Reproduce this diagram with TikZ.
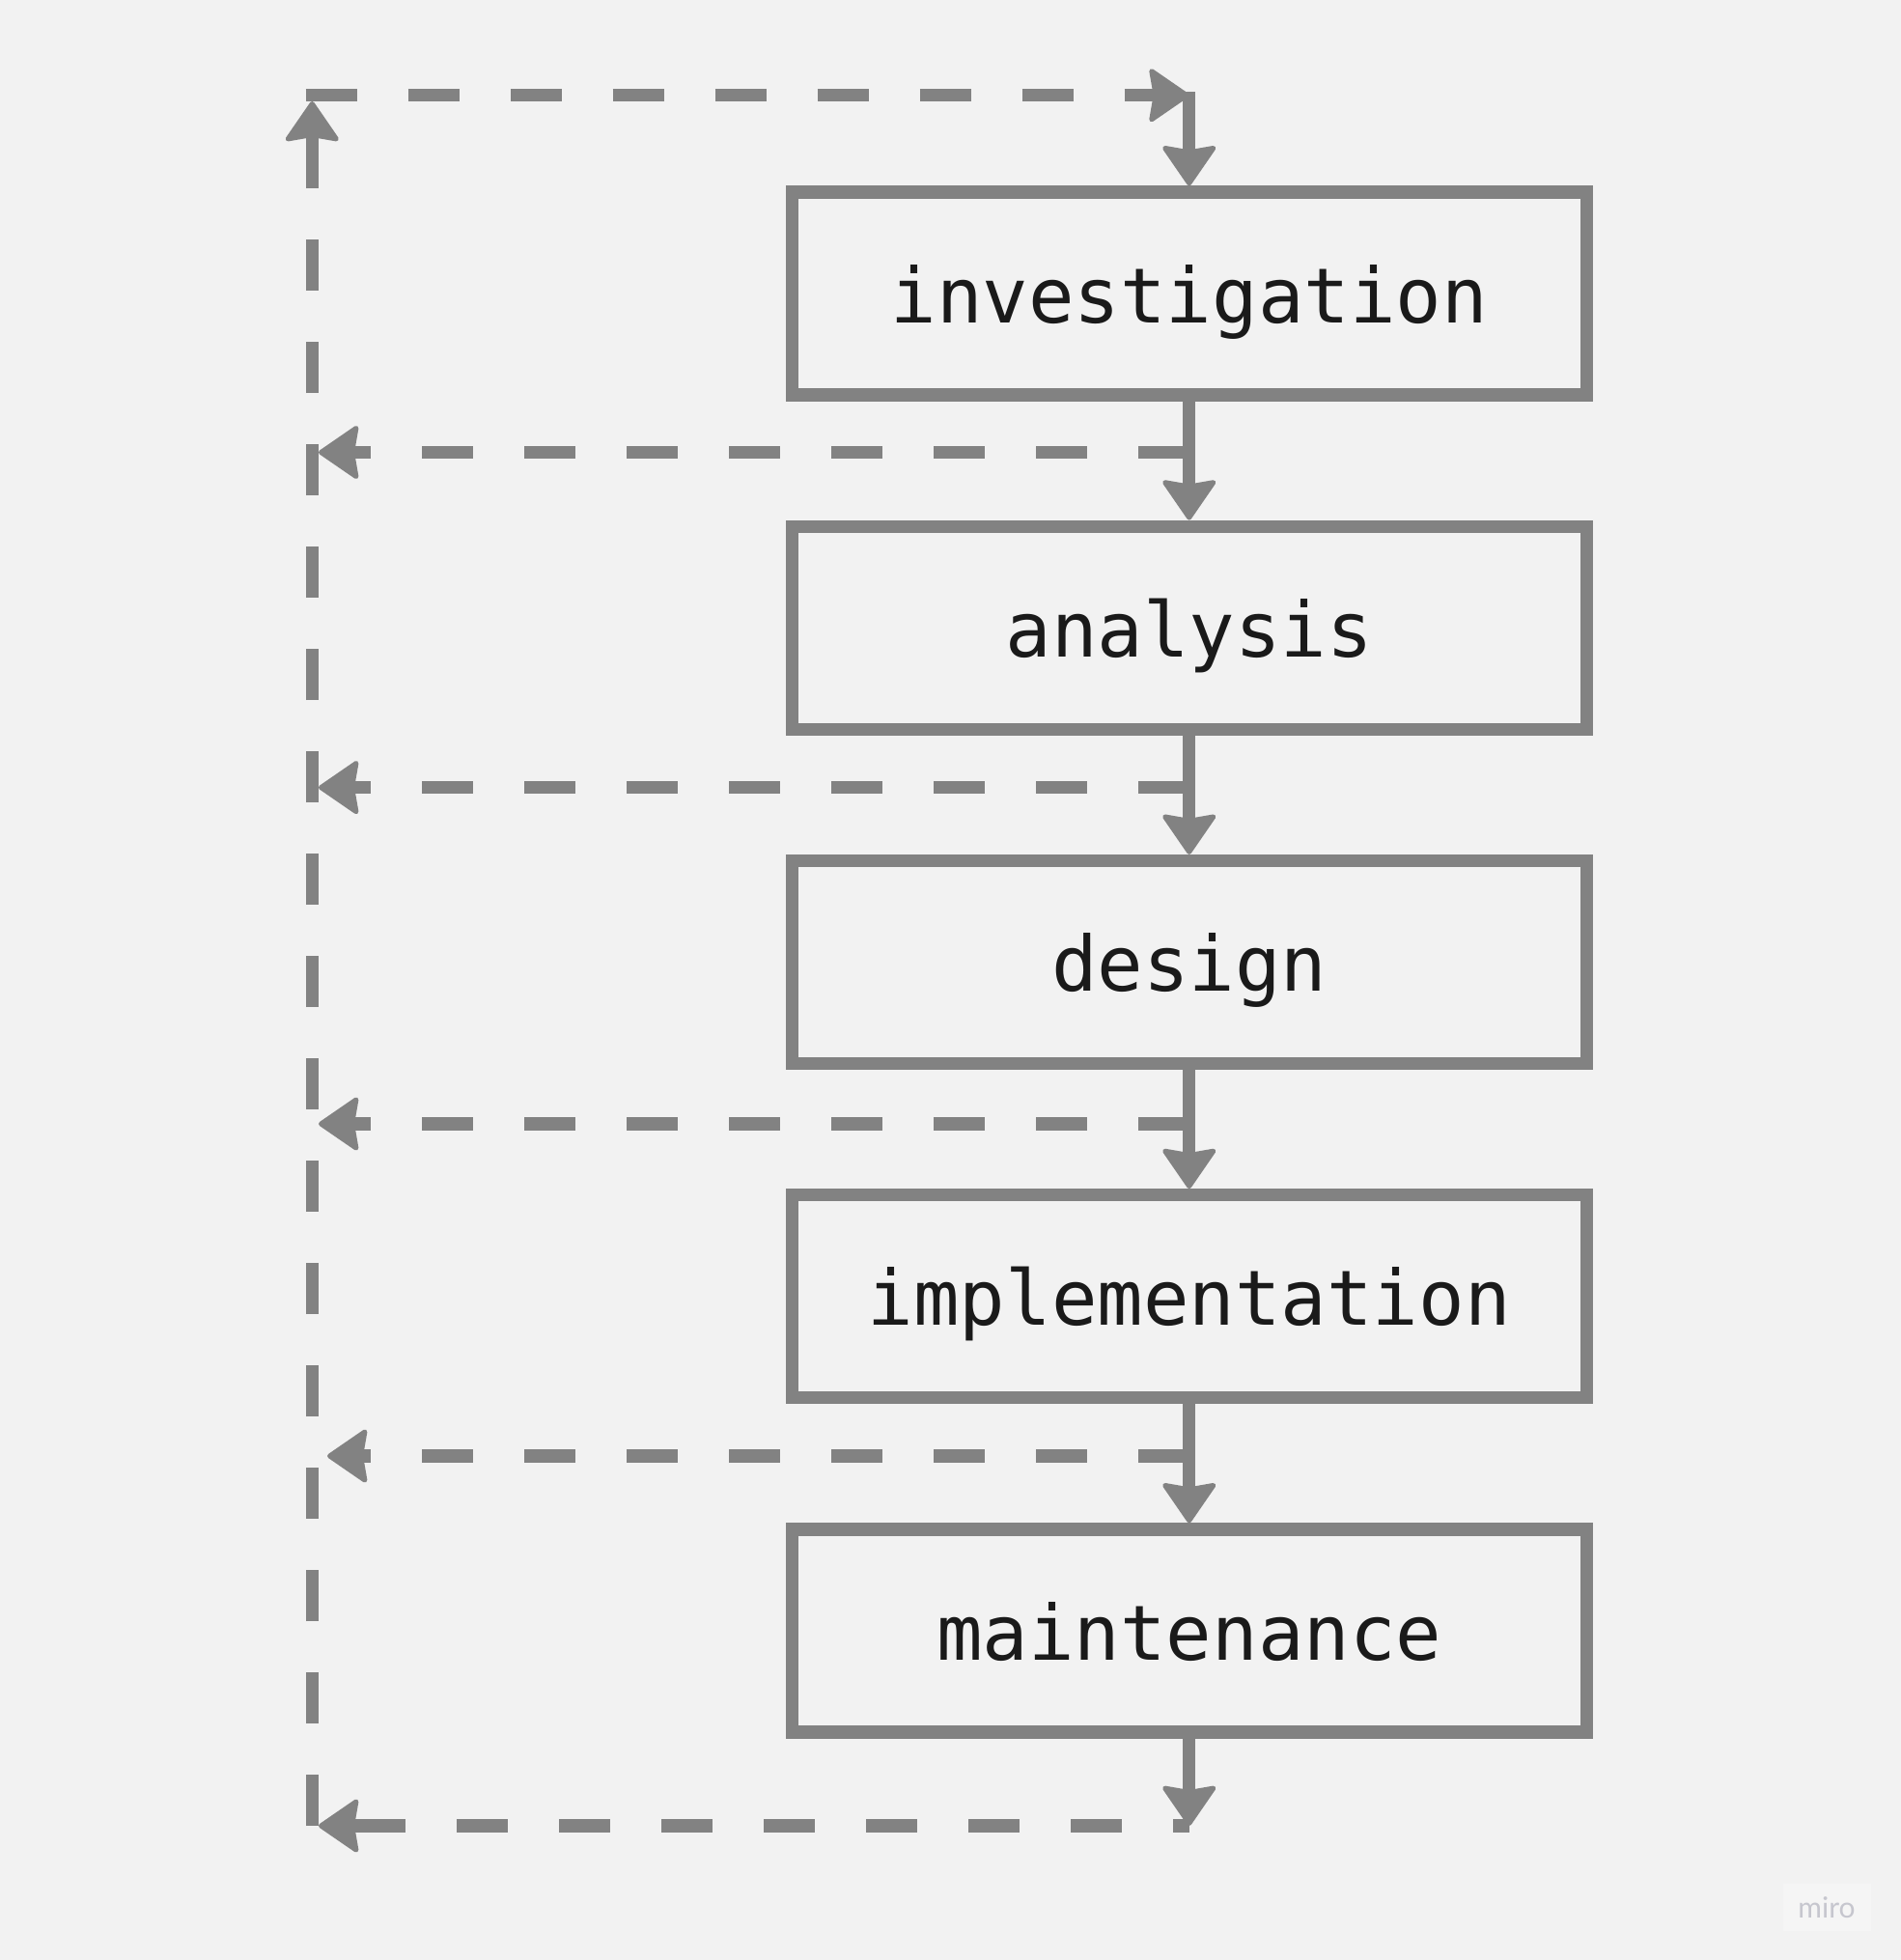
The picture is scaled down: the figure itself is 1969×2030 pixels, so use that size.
\documentclass[tikz,border=0pt]{standalone}
\usepackage{fontspec}
\setmonofont{DejaVu Sans Mono}
\newfontfamily\markfont{Lato}
\usetikzlibrary{arrows.meta}

\definecolor{bggray}{HTML}{F2F2F2}
\definecolor{linegray}{HTML}{828282}
\definecolor{inkdark}{HTML}{1A1A1A}
\definecolor{markgray}{HTML}{C6C6CE}

\tikzset{
    stage/.style={draw=linegray, line width=13.3pt, minimum width=823pt, minimum height=210pt,
        inner sep=0pt, text height=60pt, text depth=0pt, text=inkdark,
        font=\ttfamily\fontsize{79}{79}\selectfont},
    flow/.style={draw=linegray, line width=13.3pt,
        -{Stealth[length=44pt, width=60pt, inset=5pt, line width=5pt, round]}},
    backflow/.style={flow, dash pattern=on 53pt off 53pt},
}

\begin{document}
\begin{tikzpicture}[x=1pt,y=-1pt]
    \fill[bggray] (0,0) rectangle (1969,2030);
    \useasboundingbox (0,0) rectangle (1969,2030);

    % the five stages
    \foreach \name/\txt/\y in {inv/investigation/304, ana/analysis/650.25, des/design/996.5,
                               imp/implementation/1342.75, mnt/maintenance/1689} {
        \node[stage] (\name) at (1231.7,\y) {\txt};
    }

    % points on the loop
    \coordinate (topL) at (316.7,98.7);
    \coordinate (topR) at (1231.7,98.7);
    \coordinate (topD) at (1231.7,95);
    \coordinate (upEnd) at (323.3,105);
    \coordinate (botL) at (330,1891);
    \coordinate (botR) at (1231.7,1891);
    \coordinate (leftB) at (323.3,1891);

    % forward arrows
    \draw[flow] (topD) -- (inv.north);
    \draw[flow] (inv.south) -- (ana.north);
    \draw[flow] (ana.south) -- (des.north);
    \draw[flow] (des.south) -- (imp.north);
    \draw[flow] (imp.south) -- (mnt.north);
    \draw[flow] (mnt.south) -- (botR);

    % arrows back to the left line
    \foreach \y/\tip in {468.5/330, 815.6/330, 1164/330, 1508/339} {
        \coordinate (fbR) at (1231.7,\y);
        \coordinate (fbL) at (\tip,\y);
        \draw[backflow] (fbR) -- (fbL);
    }
    \draw[backflow, dash phase=36pt] (botR) -- (botL);

    % the long way round to the top
    \draw[backflow] (leftB) -- (upEnd);
    \draw[backflow] (topL) -- (topR);

    % watermark
    \fill[white, opacity=0.25] (1847,1951) rectangle (1938,2000);
    \node[text=markgray, font=\markfont\fontsize{30}{30}\selectfont] (mark) at (1892,1976) {miro};
\end{tikzpicture}
\end{document}
